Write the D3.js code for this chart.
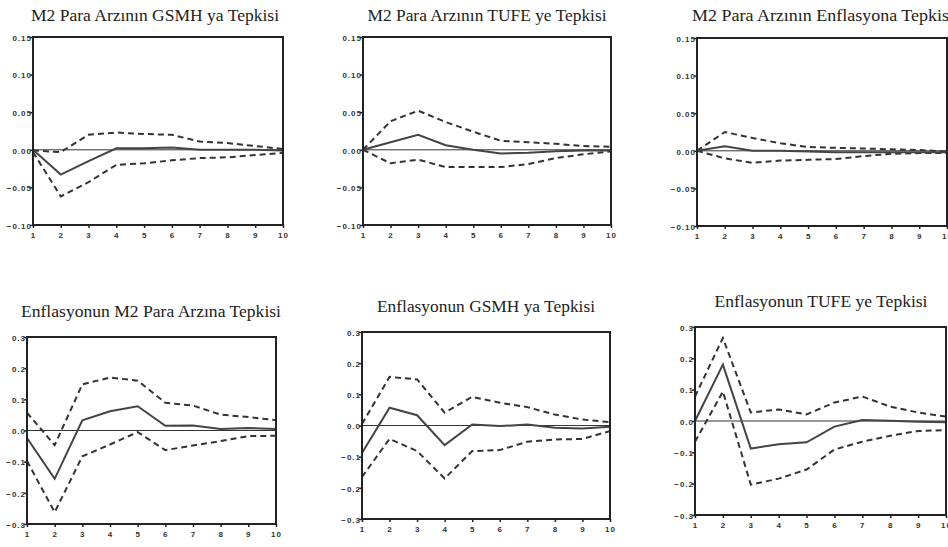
<!DOCTYPE html>
<html>
<head>
<meta charset="utf-8">
<script src="https://cdn.jsdelivr.net/npm/d3@7"></script>
<style>
  body { margin: 0; background: #fff; }
  svg { display: block; }
  .title { font-family: "Liberation Serif", "Times New Roman", serif; font-size: 17px; fill: #222; }
  .tick text { font-family: "Liberation Sans", Arial, sans-serif; font-size: 8px; font-weight: bold; fill: #333; letter-spacing: 1px; }
</style>
</head>
<body>
<svg class="target" width="948" height="547"></svg>
<script>
// periods on the x axis
const periods = [1, 2, 3, 4, 5, 6, 7, 8, 9, 10];

const titles = [
  "M2 Para Arzının GSMH ya Tepkisi",
  "M2 Para Arzının TUFE ye Tepkisi",
  "M2 Para Arzının Enflasyona Tepkisi",
  "Enflasyonun M2 Para Arzına Tepkisi",
  "Enflasyonun GSMH ya Tepkisi",
  "Enflasyonun TUFE ye Tepkisi"
];

const topTicks = [-0.10, -0.05, 0.00, 0.05, 0.10, 0.15];
const bottomTicks = [-0.3, -0.2, -0.1, 0.0, 0.1, 0.2, 0.3];

// response, upper band, lower band for each panel
const m2Gsmh = [0.000, -0.033, -0.015, 0.002, 0.002, 0.003, 0.000, 0.000, 0.000, -0.001];
const m2GsmhUp = [-0.001, -0.003, 0.020, 0.023, 0.021, 0.020, 0.011, 0.009, 0.005, 0.001];
const m2GsmhLo = [-0.003, -0.062, -0.043, -0.020, -0.018, -0.014, -0.011, -0.010, -0.007, -0.004];

const m2Tufe = [0.000, 0.010, 0.020, 0.006, 0.000, -0.005, -0.004, -0.002, -0.001, -0.001];
const m2TufeUp = [0.000, 0.038, 0.052, 0.037, 0.024, 0.012, 0.010, 0.008, 0.005, 0.004];
const m2TufeLo = [0.000, -0.018, -0.013, -0.023, -0.023, -0.023, -0.019, -0.011, -0.006, -0.002];

const m2Enf = [0.000, 0.006, 0.000, 0.000, -0.001, -0.002, -0.002, -0.002, -0.002, -0.002];
const m2EnfUp = [0.000, 0.025, 0.017, 0.010, 0.005, 0.004, 0.003, 0.002, 0.001, -0.001];
const m2EnfLo = [0.000, -0.010, -0.016, -0.013, -0.012, -0.011, -0.007, -0.004, -0.003, -0.003];

const enfM2 = [-0.024, -0.155, 0.033, 0.062, 0.078, 0.015, 0.016, 0.005, 0.008, 0.005];
const enfM2Up = [0.057, -0.047, 0.148, 0.170, 0.160, 0.089, 0.080, 0.051, 0.043, 0.033];
const enfM2Lo = [-0.098, -0.262, -0.083, -0.045, -0.005, -0.063, -0.048, -0.034, -0.018, -0.017];

const enfGsmh = [-0.088, 0.057, 0.033, -0.063, 0.003, -0.002, 0.003, -0.007, -0.010, -0.004];
const enfGsmhUp = [0.005, 0.156, 0.148, 0.041, 0.092, 0.073, 0.059, 0.035, 0.019, 0.011];
const enfGsmhLo = [-0.165, -0.043, -0.082, -0.170, -0.082, -0.079, -0.052, -0.045, -0.043, -0.018];

const enfTufe = [0.000, 0.180, -0.088, -0.074, -0.068, -0.018, 0.003, 0.001, -0.002, -0.004];
const enfTufeUp = [0.078, 0.265, 0.027, 0.037, 0.021, 0.059, 0.078, 0.046, 0.027, 0.014];
const enfTufeLo = [-0.066, 0.094, -0.203, -0.184, -0.155, -0.091, -0.066, -0.047, -0.032, -0.029];

const panels = [
  { title: titles[0], ticks: topTicks, fmt: ".2f", mid: m2Gsmh, up: m2GsmhUp, lo: m2GsmhLo,
    box: [33, 283, 37, 225], tx: 155, ty: 21, tw: 248, anchor: "middle" },
  { title: titles[1], ticks: topTicks, fmt: ".2f", mid: m2Tufe, up: m2TufeUp, lo: m2TufeLo,
    box: [363, 611, 37, 225], tx: 487, ty: 21, tw: 239, anchor: "middle" },
  { title: titles[2], ticks: topTicks, fmt: ".2f", mid: m2Enf, up: m2EnfUp, lo: m2EnfLo,
    box: [697, 947, 38, 226], tx: 692, ty: 21, tw: 262, anchor: "start" },
  { title: titles[3], ticks: bottomTicks, fmt: ".1f", mid: enfM2, up: enfM2Up, lo: enfM2Lo,
    box: [27, 276, 337, 524], tx: 151, ty: 317, tw: 260, anchor: "middle" },
  { title: titles[4], ticks: bottomTicks, fmt: ".1f", mid: enfGsmh, up: enfGsmhUp, lo: enfGsmhLo,
    box: [362, 610, 332, 519], tx: 486, ty: 312, tw: 218, anchor: "middle" },
  { title: titles[5], ticks: bottomTicks, fmt: ".1f", mid: enfTufe, up: enfTufeUp, lo: enfTufeLo,
    box: [695, 946, 327, 515], tx: 821, ty: 307, tw: 213, anchor: "middle" }
];

const svg = d3.select(".target");

panels.forEach((p) => {
  const [left, right, top, bottom] = p.box;
  const x = d3.scaleLinear().domain([1, 10]).range([left, right]);
  const y = d3.scaleLinear().domain(d3.extent(p.ticks)).range([bottom, top]);
  const g = svg.append("g");

  g.append("text")
    .attr("class", "title")
    .attr("x", p.tx)
    .attr("y", p.ty)
    .attr("text-anchor", p.anchor)
    .attr("textLength", p.tw)
    .attr("lengthAdjust", "spacingAndGlyphs")
    .text(p.title);

  const line = d3.line().x((d, i) => x(periods[i])).y((d) => y(d));

  // zero line
  g.append("line")
    .attr("x1", left).attr("x2", right)
    .attr("y1", y(0)).attr("y2", y(0))
    .attr("stroke", "#333").attr("stroke-width", 1);

  g.append("path").datum(p.up)
    .attr("d", line).attr("fill", "none")
    .attr("stroke", "#333").attr("stroke-width", 2).attr("stroke-dasharray", "6,4");
  g.append("path").datum(p.lo)
    .attr("d", line).attr("fill", "none")
    .attr("stroke", "#333").attr("stroke-width", 2).attr("stroke-dasharray", "6,4");
  g.append("path").datum(p.mid)
    .attr("d", line).attr("fill", "none")
    .attr("stroke", "#444").attr("stroke-width", 2);

  // frame
  g.append("rect")
    .attr("x", left).attr("y", top)
    .attr("width", right - left).attr("height", bottom - top)
    .attr("fill", "none").attr("stroke", "#222").attr("stroke-width", 2);

  const yAxis = g.append("g")
    .attr("transform", `translate(${left},0)`)
    .call(d3.axisLeft(y).tickValues(p.ticks).tickFormat(d3.format(p.fmt)).tickSize(3).tickPadding(-2));
  yAxis.select(".domain").remove();
  yAxis.selectAll(".tick line").attr("stroke", "#222").attr("stroke-width", 1.5);
  yAxis.selectAll(".tick text").attr("dy", "0.4em");

  const xAxis = g.append("g")
    .attr("transform", `translate(0,${bottom})`)
    .call(d3.axisBottom(x).tickValues(periods).tickFormat(d3.format("d")).tickSize(3).tickPadding(4));
  xAxis.select(".domain").remove();
  xAxis.selectAll(".tick line").attr("stroke", "#222").attr("stroke-width", 1.5);
});
</script>
</body>
</html>
